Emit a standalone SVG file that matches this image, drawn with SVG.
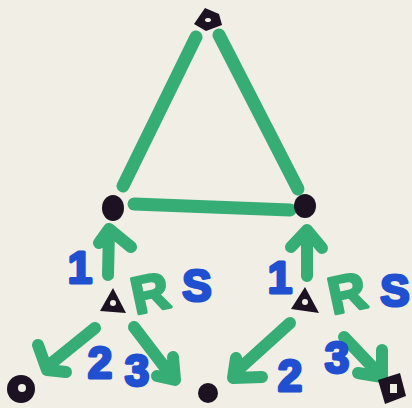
<svg xmlns="http://www.w3.org/2000/svg" width="412" height="408" viewBox="0 0 412 408">
<style>
.g{stroke:#35ad74;stroke-width:12;stroke-linecap:round;stroke-linejoin:round;fill:none}
.e{stroke:#35ad74;stroke-width:13;stroke-linecap:round;fill:none}
.k{fill:#1c1222}
.b{fill:#2050d0;stroke:#2050d0;stroke-width:3;stroke-linejoin:round;font-family:"Liberation Sans",Arial,sans-serif;font-weight:bold;font-size:44px;text-anchor:middle}
.r{fill:#35ad74;stroke:#35ad74;stroke-width:3;stroke-linejoin:round;font-family:"Liberation Sans",Arial,sans-serif;font-weight:bold;font-size:52px;text-anchor:middle}
</style>
<rect width="412" height="408" fill="#f1eee6"/>
<g id="connectors">
<line class="e" x1="196" y1="37" x2="123" y2="186"/>
<line class="e" x1="219" y1="35" x2="298" y2="189"/>
<line class="e" x1="134" y1="204" x2="290" y2="210"/>
<path class="g" d="M108 275 L109 230 M99 243 L109 229 L131 247"/>
<path class="g" d="M95 328 L48 366 M38 345 L47 370 L66 372"/>
<path class="g" d="M134 327 L173 378 M173 357 L175 380 L157 376"/>
<path class="g" d="M307 276 L307 230 M291 247 L307 230 L322 248"/>
<path class="g" d="M290 323 L238 370 M236 358 L233 378 L262 377"/>
<path class="g" d="M344 337 L381 376 M382 350 L382 377 L358 373"/>
<text class="b" x="80" y="283">1</text>
<text class="r" x="150" y="311" transform="rotate(-12 150 292)">R</text>
<text class="b" x="197" y="301">S</text>
<text class="b" x="100" y="378">2</text>
<text class="b" x="137" y="386">3</text>
<text class="b" x="280" y="293">1</text>
<text class="r" x="347" y="311" transform="rotate(-12 347 292)">R</text>
<text class="b" x="395" y="306">S</text>
<text class="b" x="290" y="391">2</text>
<text class="b" x="337" y="373">3</text>
</g>
<g id="top"><path class="k" d="M194 24 L205 8 L219 14 L222 25 L206 31 Z"/><ellipse cx="208" cy="20" rx="3" ry="2" fill="#f1eee6"/></g>
<g id="left"><ellipse class="k" cx="113" cy="208" rx="11" ry="13"/></g>
<g id="right"><ellipse class="k" cx="305" cy="206" rx="11" ry="12"/></g>
<g id="midleft"><path class="k" d="M113 288 L126 313 L100 311 Z"/><circle cx="113" cy="303" r="3" fill="#f1eee6"/></g>
<g id="midright"><path class="k" d="M305 287 L319 313 L291 309 Z"/><circle cx="305" cy="302" r="3" fill="#f1eee6"/></g>
<g id="botleft"><circle class="k" cx="21" cy="389" r="14"/><circle cx="22" cy="388" r="4" fill="#f1eee6"/></g>
<g id="botmid"><circle class="k" cx="208" cy="393" r="10"/></g>
<g id="botright"><path class="k" d="M378 380 L400 373 L406 396 L385 404 Z"/><rect x="390" y="384" width="7" height="9" fill="#f1eee6"/></g>
</svg>
